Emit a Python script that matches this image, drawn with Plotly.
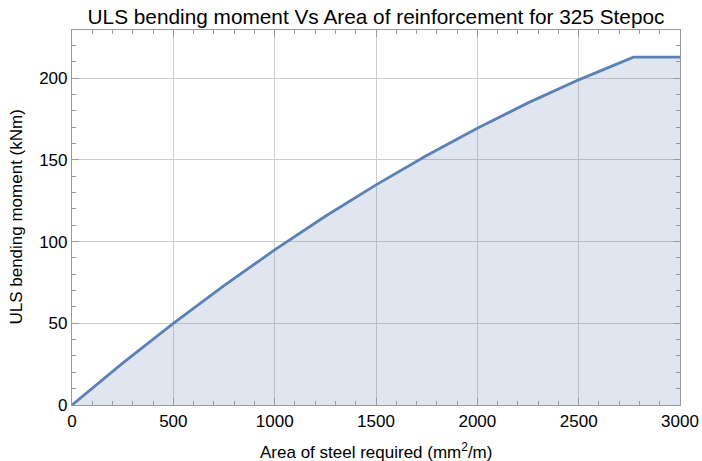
import plotly.graph_objects as go

# Data
area_steel = [0, 250, 500, 750, 1000, 1250, 1500, 1750, 2000, 2250, 2500, 2770, 3000]
moment_kNm = [0, 25.6, 50.0, 73.1, 94.9, 115.5, 134.7, 152.7, 169.4, 184.9, 199.0, 212.9, 212.9]

x_ticks = [0, 500, 1000, 1500, 2000, 2500, 3000]
y_ticks = [0, 50, 100, 150, 200]

line_col = "#5E81B5"
axis_col = "#999999"
grid_col = "#CDCDCD"

fig = go.Figure()
fig.add_trace(go.Scatter(
    x=area_steel, y=moment_kNm, mode="lines",
    line=dict(color=line_col, width=2.8),
    fill="tozeroy", fillcolor="rgba(94,129,181,0.2)",
    showlegend=False, hoverinfo="skip",
))

font = dict(family="Liberation Sans, Arial, sans-serif", color="#000000")

fig.update_layout(
    width=702, height=461,
    margin=dict(l=72, r=22, t=30, b=56, autoexpand=False),
    paper_bgcolor="white", plot_bgcolor="white",
    font=dict(size=17, **font),
    title=dict(text="ULS bending moment Vs Area of reinforcement for 325 Stepoc",
               xref="paper", x=0.5, xanchor="center",
               yref="container", y=1 - 17 / 461, yanchor="middle",
               font=dict(size=20.8, **font)),
    annotations=[
        dict(text="Area of steel required (mm<sup>2</sup>/m)", xref="paper", yref="paper",
             x=0.5, y=-0.123, xanchor="center", yanchor="middle", showarrow=False,
             font=dict(size=17, **font)),
        dict(text="ULS bending moment (kNm)", xref="paper", yref="paper",
             x=-0.092, y=0.5, xanchor="center", yanchor="middle", showarrow=False,
             textangle=-90, font=dict(size=17, **font)),
    ],
)
fig.update_xaxes(
    range=[0, 3000], tickvals=x_ticks, ticktext=[str(v) for v in x_ticks],
    showgrid=True, gridcolor=grid_col, gridwidth=1,
    showline=True, linecolor=axis_col, linewidth=1.2, mirror="ticks",
    ticks="inside", ticklen=7, tickcolor=axis_col,
    minor=dict(dtick=100, ticks="inside", ticklen=4, tickcolor=axis_col, showgrid=False),
    zeroline=False, tickfont=dict(size=17), automargin=False,
)
fig.update_yaxes(
    range=[0, 229.5], tickvals=y_ticks, ticktext=[str(v) for v in y_ticks],
    showgrid=True, gridcolor=grid_col, gridwidth=1,
    showline=True, linecolor=axis_col, linewidth=1.2, mirror="ticks",
    ticks="inside", ticklen=7, tickcolor=axis_col,
    minor=dict(dtick=10, ticks="inside", ticklen=4, tickcolor=axis_col, showgrid=False),
    zeroline=False, tickfont=dict(size=17), automargin=False,
)

fig.write_html("out.html", config={"displayModeBar": False},
               post_script="document.body.style.margin='0px';")
